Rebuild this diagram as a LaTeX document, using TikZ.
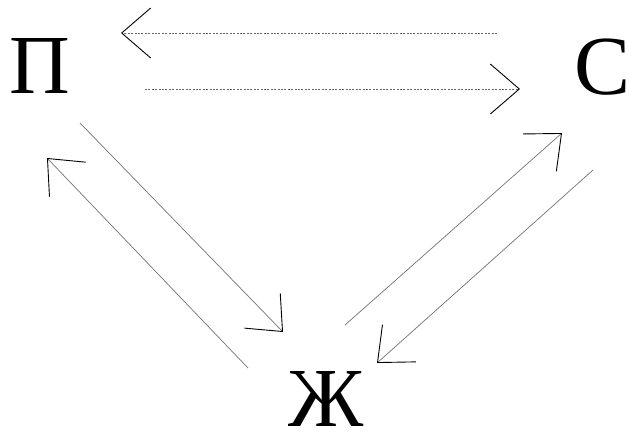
\documentclass[tikz,border=0pt]{standalone}
\usepackage{fontspec}
\setmainfont{Liberation Serif}
\usetikzlibrary{arrows.meta}
\begin{document}
\begin{tikzpicture}[x=1pt,y=-1pt,
  letter/.style={inner sep=0pt,anchor=base,text depth=0pt,text height=58pt,
    font=\fontsize{84}{84}\selectfont},
  flow/.style={line width=0.7pt,draw=black!55,
    -{Straight Barb[length=29pt,width=50pt,line width=0.9pt,color=black]}},
  dotflow/.style={flow,draw=black!60,dash pattern=on 2pt off 1.4pt}]
  \useasboundingbox (0,0) rectangle (629,432);
  % the three letters
  \node[letter] (P) at (40,93) {П};
  \node[letter] (S) at (603,94) {С};
  \node[letter] (Zh) at (326,426) {Ж};
  % end points of the paired arrows
  \coordinate (ps1) at (497,33);  \coordinate (ps2) at (121,33);
  \coordinate (ps3) at (145,89);  \coordinate (ps4) at (520,89);
  \coordinate (pz1) at (80,123);  \coordinate (pz2) at (283,332);
  \coordinate (pz3) at (248,368); \coordinate (pz4) at (47,158);
  \coordinate (sz1) at (345,325); \coordinate (sz2) at (562,133);
  \coordinate (sz3) at (593,170); \coordinate (sz4) at (377,363);
  % П <-> С (dotted)
  \draw[dotflow] (ps1) -- (ps2);
  \draw[dotflow] (ps3) -- (ps4);
  % П <-> Ж
  \draw[flow] (pz1) -- (pz2);
  \draw[flow] (pz3) -- (pz4);
  % Ж <-> С
  \draw[flow] (sz1) -- (sz2);
  \draw[flow] (sz3) -- (sz4);
\end{tikzpicture}
\end{document}
